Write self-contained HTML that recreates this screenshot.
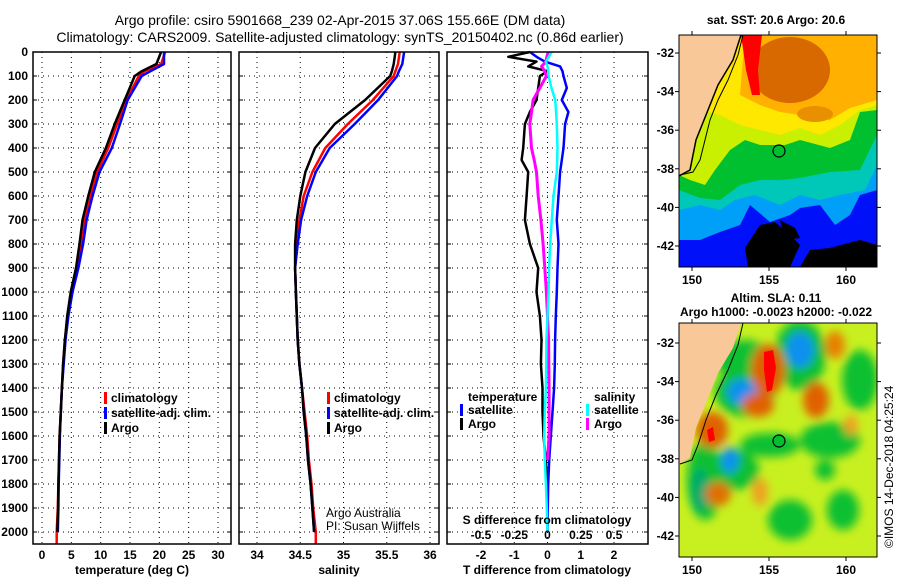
<!DOCTYPE html>
<html><head><meta charset="utf-8"><style>
body{margin:0;background:#fff;}
svg text{font-family:"Liberation Sans",sans-serif;fill:#000;}
.t{font-size:14px;}
.b{font-size:12px;font-weight:bold;}
</style></head><body>
<svg id="s" width="900" height="580" viewBox="0 0 900 580" xmlns="http://www.w3.org/2000/svg">
<defs>
<filter id="bl" x="-20%" y="-20%" width="140%" height="140%"><feGaussianBlur stdDeviation="4.5"/></filter>
<clipPath id="c1"><rect x="679" y="35" width="198" height="232"/></clipPath>
<clipPath id="c2"><rect x="679" y="323" width="198" height="234"/></clipPath>
</defs>
<text class="t" x="340" y="25" text-anchor="middle">Argo profile: csiro 5901668_239 02-Apr-2015 37.06S 155.66E (DM data)</text>
<text class="t" x="340" y="42" text-anchor="middle">Climatology: CARS2009. Satellite-adjusted climatology: synTS_20150402.nc (0.86d earlier)</text>
<g id="grid"></g>
<g id="series"></g>
<g id="frames"></g>

<g>
<rect x="104" y="392" width="3" height="12" fill="#f00"/><text class="b" x="111" y="402">climatology</text>
<rect x="104" y="407" width="3" height="12" fill="#00f"/><text class="b" x="111" y="417">satellite-adj. clim.</text>
<rect x="104" y="422" width="3" height="12" fill="#000"/><text class="b" x="111" y="432">Argo</text>
</g>
<g>
<rect x="327" y="392" width="3" height="12" fill="#f00"/><text class="b" x="334" y="402">climatology</text>
<rect x="327" y="407" width="3" height="12" fill="#00f"/><text class="b" x="334" y="417">satellite-adj. clim.</text>
<rect x="327" y="422" width="3" height="12" fill="#000"/><text class="b" x="334" y="432">Argo</text>
</g>
<text x="326" y="517" font-size="12">Argo Australia</text>
<text x="326" y="530" font-size="12">PI: Susan Wijffels</text>
<g>
<text class="b" x="468" y="401">temperature</text>
<rect x="460" y="404" width="3" height="12" fill="#00f"/><text class="b" x="468" y="414">satellite</text>
<rect x="460" y="418" width="3" height="12" fill="#000"/><text class="b" x="468" y="428">Argo</text>
<text class="b" x="594" y="401">salinity</text>
<rect x="586" y="404" width="3" height="12" fill="#0ff"/><text class="b" x="594" y="414">satellite</text>
<rect x="586" y="418" width="3" height="12" fill="#f0f"/><text class="b" x="594" y="428">Argo</text>
</g>
<text class="b" x="547" y="524" text-anchor="middle">S difference from climatology</text>
<text class="b" x="547" y="574" text-anchor="middle">T difference from climatology</text>
<text class="b" x="132" y="574" text-anchor="middle">temperature (deg C)</text>
<text class="b" x="339" y="574" text-anchor="middle">salinity</text>

<text class="b" x="776" y="24" text-anchor="middle">sat. SST: 20.6 Argo: 20.6</text>
<g clip-path="url(#c1)">
<rect x="679" y="35" width="198" height="232" fill="#0010f8"/>
<path d="M679 35H877V190L860 195 850 215 835 225 820 205 800 208 790 215 770 222 750 205 740 225 720 232 700 240 679 240Z" fill="#00a0f8"/>
<path d="M679 35H877V165L865 190 840 195 820 200 800 195 780 205 755 195 735 200 720 210 700 205 679 210Z" fill="#00c8b8"/>
<path d="M679 35H877V135L860 170 830 172 800 178 780 180 760 180 740 185 720 200 700 198 679 190Z" fill="#00c030"/>
<path d="M679 35H877V110L860 112 850 140 830 148 800 140 785 145 760 145 745 140 730 150 715 170 705 185 690 180 679 175Z" fill="#c8f000"/>
<path d="M679 35H877V105L860 110 840 125 820 135 800 128 780 135 760 130 740 125 720 115 700 110 679 110Z" fill="#ffe800"/>
<path d="M745 35H877V100L850 108 830 120 800 115 780 112 760 105 740 95Z" fill="#ffb000"/>
<ellipse cx="790" cy="70" rx="40" ry="33" fill="#d86800"/>
<ellipse cx="815" cy="114" rx="18" ry="8" fill="#e89000"/>
<path d="M741 35H762L758 70 760 95 752 95 746 70Z" fill="#ff0000"/>
<path d="M760 225L775 222 790 235 800 245 790 267 748 267 745 248Z" fill="#000"/>
<path d="M810 250L830 248 860 240 877 245 877 267 800 267Z" fill="#000"/>
<path d="M780 220L795 228 800 238 785 240Z" fill="#000"/>
<path d="M679 35H741L738 45 733 60 725 75 718 85 712 100 706 115 702 128 696 140 692 155 690 170 684 172 679 176Z" fill="#f8c898"/>
<path d="M743 35L738 55 728 80 718 100 710 120 705 140 700 160 693 172 680 175" fill="none" stroke="#000" stroke-width="1"/>
<path d="M741 35L733 60 718 85 706 115 696 140 690 170 679 176" fill="none" stroke="#000" stroke-width="1.5"/>
<circle cx="779" cy="151" r="6" fill="none" stroke="#000" stroke-width="1.2"/>
</g>
<rect x="679" y="35" width="198" height="232" fill="none" stroke="#000"/>
<g id="m1ax"></g>

<text class="b" x="776" y="302" text-anchor="middle">Altim. SLA: 0.11</text>
<text class="b" x="776" y="316" text-anchor="middle">Argo h1000: -0.0023 h2000: -0.022</text>
<g clip-path="url(#c2)">
<rect x="679" y="323" width="198" height="234" fill="#c8f020"/>
<g filter="url(#bl)">
<ellipse cx="705" cy="480" rx="18" ry="40" fill="#10c030"/>
<ellipse cx="700" cy="490" rx="8" ry="22" fill="#00a870"/>
<ellipse cx="745" cy="360" rx="30" ry="20" fill="#10c030"/>
<ellipse cx="745" cy="392" rx="30" ry="25" fill="#10c030"/>
<ellipse cx="800" cy="355" rx="26" ry="35" fill="#10c030"/>
<ellipse cx="770" cy="445" rx="30" ry="12" fill="#10c030"/>
<ellipse cx="830" cy="440" rx="30" ry="18" fill="#10c030"/>
<ellipse cx="860" cy="380" rx="18" ry="30" fill="#10c030"/>
<ellipse cx="790" cy="520" rx="22" ry="20" fill="#10c030"/>
<ellipse cx="843" cy="510" rx="16" ry="20" fill="#10c030"/>
<ellipse cx="735" cy="470" rx="24" ry="20" fill="#10c030"/>
<ellipse cx="825" cy="470" rx="10" ry="10" fill="#10c030"/>
<ellipse cx="800" cy="350" rx="14" ry="18" fill="#1090f0"/>
<ellipse cx="742" cy="392" rx="15" ry="13" fill="#1090f0"/>
<ellipse cx="730" cy="460" rx="9" ry="13" fill="#1090f0"/>
<ellipse cx="768" cy="370" rx="17" ry="26" fill="#e06000"/>
<ellipse cx="712" cy="430" rx="16" ry="18" fill="#e06000"/>
<ellipse cx="758" cy="405" rx="16" ry="12" fill="#e06000"/>
<ellipse cx="816" cy="400" rx="13" ry="18" fill="#e06000"/>
<ellipse cx="718" cy="494" rx="13" ry="12" fill="#e07000"/>
<ellipse cx="835" cy="345" rx="10" ry="14" fill="#e88000"/>
<ellipse cx="760" cy="492" rx="8" ry="14" fill="#f0a020"/>
<ellipse cx="851" cy="425" rx="7" ry="10" fill="#f0a020"/>
</g>
<path d="M764 352L773 350 776 368 772 390 767 392 764 370Z" fill="#ff0000"/>
<path d="M707 430L713 427 715 440 709 442Z" fill="#ff0000"/>
<path d="M679 323H741L733 348 718 373 706 403 696 428 690 458 679 464Z" fill="#f8c898"/>
<path d="M743 323L738 345 728 370 716 395 706 420 698 445 692 460 680 464" fill="none" stroke="#000" stroke-width="1"/>
<circle cx="779" cy="441" r="6" fill="#00c030" stroke="#000" stroke-width="1.2"/>
</g>
<rect x="679" y="323" width="198" height="234" fill="none" stroke="#000"/>
<g id="m2ax"></g>
<text x="893" y="548" font-size="12" transform="rotate(-90 893 548)">©IMOS 14-Dec-2018 04:25:24</text>
</svg>
<script>
const pres = [0,50,80,100,200,300,400,500,600,700,800,900,1000,1100,1200,1300,1400,1500,1600,1700,1800,1900,2000];
const tempArgo = [20.3,19.5,17.0,15.8,14.1,12.4,10.9,9.0,7.9,6.9,6.4,5.8,4.9,4.3,3.9,3.6,3.4,3.2,3.0,2.9,2.8,2.75,2.6];
const tempClim = [21.0,20.3,17.5,16.5,14.4,12.8,11.3,9.4,8.3,7.3,6.8,6.0,5.0,4.4,3.9,3.6,3.4,3.2,3.0,2.9,2.8,2.7,2.5];
const tempSat  = [20.8,20.8,18.5,17.0,14.6,13.3,11.9,9.8,8.6,7.6,7.0,6.2,5.2,4.5,4.0,3.7,3.4,3.2,3.05,2.95,2.85,2.8,2.7];
const salArgo = [35.60,35.58,35.56,35.54,35.25,34.90,34.67,34.56,34.50,34.46,34.44,34.44,34.45,34.46,34.47,34.49,34.52,34.54,34.57,34.59,34.62,34.64,34.66];
const salClim = [35.65,35.63,35.60,35.58,35.34,35.05,34.79,34.64,34.54,34.49,34.46,34.44,34.45,34.46,34.47,34.49,34.52,34.55,34.58,34.60,34.63,34.65,34.68];
const salSat  = [35.70,35.68,35.64,35.62,35.40,35.13,34.84,34.68,34.58,34.51,34.47,34.44,34.45,34.46,34.47,34.49,34.52,34.54,34.57,34.59,34.62,34.64,34.66];
const dPres = [0,20,40,60,80,100,150,200,250,300,400,450,500,600,700,800,900,1000,1100,1200,1300,1400,1500,1600,1700,1800,1900,2000];
const dTArgo = [-0.53,-1.18,-0.33,-0.58,0,-0.23,-0.28,-0.33,-0.53,-0.68,-0.73,-0.78,-0.58,-0.63,-0.68,-0.53,-0.28,-0.33,-0.23,-0.18,-0.2,-0.15,-0.15,-0.12,-0.05,-0.02,null,null];
const dTSat = [-0.53,-0.33,-0.08,0.38,0.45,0.48,0.58,0.43,0.63,0.53,0.48,0.43,0.38,0.33,0.28,0.33,0.3,0.28,0.25,0.23,0.22,0.2,0.15,0.1,0.05,0.02,0.01,0];
const dSArgo = [0.005,-0.005,-0.012,-0.045,-0.02,-0.008,-0.058,-0.108,-0.12,-0.133,-0.12,-0.1,-0.083,-0.07,-0.05,-0.033,-0.02,-0.008,0,0.008,0.01,0.012,0.012,0.012,0,null,null,null];
const dSSat = [0.032,0.01,-0.012,0,0.005,0.008,0.03,0.058,0.065,0.07,0.075,0.073,0.07,0.045,0.032,0.02,0.012,0.008,0,-0.008,-0.01,-0.012,-0.02,-0.025,-0.02,-0.012,-0.005,0];
const yTicks = [0,100,200,300,400,500,600,700,800,900,1000,1100,1200,1300,1400,1500,1600,1700,1800,1900,2000];
const tTicks = [0,5,10,15,20,25,30];
const sTicks = [34,34.5,35,35.5,36];
const sTickLabels = ['34','34.5','35','35.5','36'];
const dTTicks = [-2,-1,0,1,2];
const dSTicks = [-0.5,-0.25,0,0.25,0.5];
const dSTickLabels = ['-0.5','-0.25','0','0.25','0.5'];
const lonTicks = [150,155,160];
const latTicks = [-32,-34,-36,-38,-40,-42];
const NS='http://www.w3.org/2000/svg';
const top0=52, bot=544;
const yP = p => top0 + p*(532-top0)/2000;
const xT = v => 42 + v*(218-42)/30;
const xS = v => 257 + (v-34)*(430-257)/2;
const xD = v => 547.5 + v*33.25;
const xDS = v => 547.5 + v*4*33.25;
const panels=[{x0:33,x1:231,name:'temperature'},{x0:239,x1:439,name:'salinity'},{x0:447,x1:648,name:'difference'}];
function mk(tag,attrs,parent){const e=document.createElementNS(NS,tag);for(const k in attrs)e.setAttribute(k,attrs[k]);parent.appendChild(e);return e;}
const G=document.getElementById('grid'),S=document.getElementById('series'),F=document.getElementById('frames');
panels.forEach(pn=>{
  yTicks.forEach(p=>{const l=mk('line',{x1:pn.x0,x2:pn.x1,y1:yP(p),y2:yP(p),stroke:'#000','stroke-dasharray':'1 4'},G);
    
    
    mk('line',{x1:pn.x0,x2:pn.x0+4,y1:yP(p),y2:yP(p),stroke:'#000'},G);
    mk('line',{x1:pn.x1-4,x2:pn.x1,y1:yP(p),y2:yP(p),stroke:'#000'},G);});
  const r=mk('rect',{x:pn.x0,y:top0,width:pn.x1-pn.x0,height:bot-top0,fill:'none',stroke:'#000','stroke-width':1.5},F);
  
  
});
yTicks.forEach(p=>{const t=mk('text',{x:28,y:yP(p)+4,'text-anchor':'end',class:'b'},F);t.textContent=p;
  
  });
function vt(xs,labels,fn,ly){xs.forEach((v,i)=>{const x=fn(v);
  const g=mk('line',{x1:x,x2:x,y1:top0,y2:bot,stroke:'#000','stroke-dasharray':'1 4'},G);
  
  
  if(ly){const t=mk('text',{x:x,y:ly,'text-anchor':'middle',class:'b'},F);t.textContent=labels[i];
  
  }});}
vt(tTicks,tTicks,xT,559);
vt(sTicks,sTickLabels,xS,559);
vt(dTTicks,dTTicks,xD,559);
dSTicks.forEach((v,i)=>{const t=mk('text',{x:xDS(v),y:539,'text-anchor':'middle',class:'b'},F);t.textContent=dSTickLabels[i];
  
  });
function line(ps,vals,fn,col,w,name,endP){let d='';vals.forEach((v,i)=>{if(v===null)return;d+=(d?'L':'M')+fn(v).toFixed(1)+' '+yP(ps[i]).toFixed(1);});
  if(endP){d+='L'+fn(vals[vals.length-1]).toFixed(1)+' '+yP(endP).toFixed(1);}
  const e=mk('path',{d:d,fill:'none',stroke:col,'stroke-width':w,'stroke-linejoin':'round'},S);
  
  }
line(pres,tempClim,xT,'#f00',2.5,'temperature-climatology-line',2050);
line(pres,tempSat,xT,'#00f',2.5,'temperature-satellite-line');
line(pres,tempArgo,xT,'#000',2.5,'temperature-argo-line');
line(pres,salClim,xS,'#f00',2.5,'salinity-climatology-line',2050);
line(pres,salSat,xS,'#00f',2.5,'salinity-satellite-line');
line(pres,salArgo,xS,'#000',2.5,'salinity-argo-line');
line(dPres,dTArgo,xD,'#000',2.5,'t-diff-argo-line');
line(dPres,dTSat,xD,'#00f',2.5,'t-diff-satellite-line');
line(dPres,dSArgo,xDS,'#f0f',3,'s-diff-argo-line');
line(dPres,dSSat,xDS,'#0ff',2.5,'s-diff-satellite-line');
function mapAx(id,yTop,yBot,latY0,latY1){const g=document.getElementById(id);
  const lx=v=>692+(v-150)*15.4, ly=v=>latY0+(-32-v)*(latY1-latY0)/10;
  lonTicks.forEach(v=>{mk('line',{x1:lx(v),x2:lx(v),y1:yBot,y2:yBot+4,stroke:'#000'},g);mk('line',{x1:lx(v),x2:lx(v),y1:yTop-4,y2:yTop,stroke:'#000'},g);
    const t=mk('text',{x:lx(v),y:yBot+17,'text-anchor':'middle',class:'b'},g);t.textContent=v;
    
    });
  latTicks.forEach(v=>{mk('line',{x1:675,x2:679,y1:ly(v),y2:ly(v),stroke:'#000'},g);mk('line',{x1:877,x2:881,y1:ly(v),y2:ly(v),stroke:'#000'},g);
    const t=mk('text',{x:674,y:ly(v)+4,'text-anchor':'end',class:'b'},g);t.textContent=v;
    
    });}
mapAx('m1ax',35,267,53,246);
mapAx('m2ax',323,557,343,536);
</script>
</body></html>
